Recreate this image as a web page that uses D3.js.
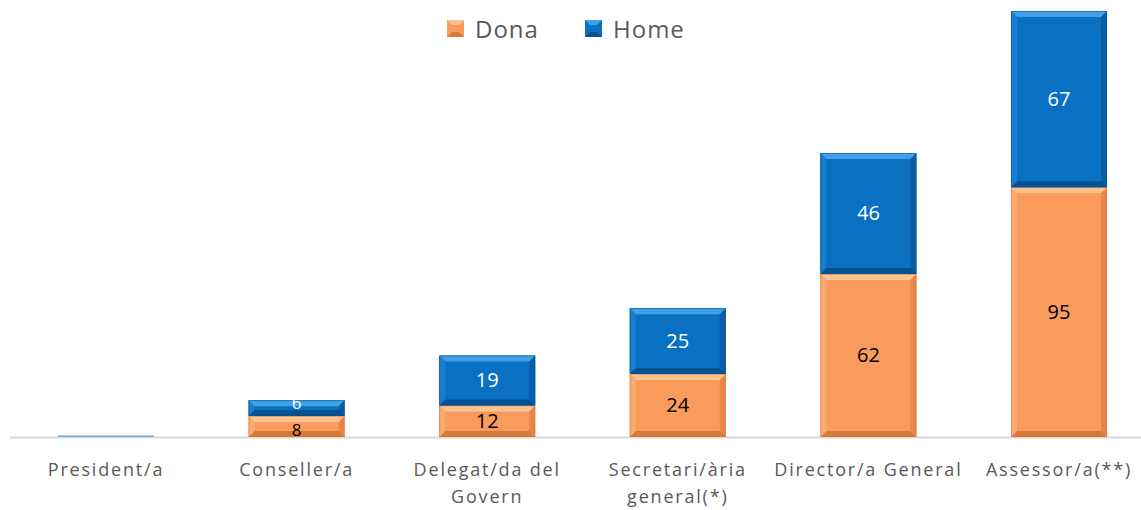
<!DOCTYPE html>
<html>
<head>
<meta charset="utf-8">
<script src="https://cdn.jsdelivr.net/npm/d3@7"></script>
<style>
	body { margin: 0; background: #fff; }
	svg { display: block; font-family: "Open Sans", "Noto Sans", sans-serif; }
</style>
</head>
<body>
<div id="chart"></div>
<script>
	//Data
	var categories = ["President/a", "Conseller/a", "Delegat/da del Govern", "Secretari/ària general(*)", "Director/a General", "Assessor/a(**)"];
	var tickLines = [["President/a"], ["Conseller/a"], ["Delegat/da del", "Govern"], ["Secretari/ària", "general(*)"], ["Director/a General"], ["Assessor/a(**)"]];
	var seriesNames = ["Dona", "Home"];
	var dona = [0, 8, 12, 24, 62, 95];
	var home = [0, 6, 19, 25, 46, 67];

	var w = 1141;
	var h = 510;
	var baseline = 437;
	var bevel = 6;

	var colors = {
		Dona: { main: "#F99B5C", top: "#FFC391", bottom: "#D8793A", side: "#FBAA72", text: "#000" },
		Home: { main: "#0A70C2", top: "#41A0EA", bottom: "#04528F", side: "#1A7ED0", text: "#fff" }
	};

	var rows = categories.map(function (c, i) {
		return { cat: c, Dona: dona[i], Home: home[i] };
	});
	var stacked = d3.stack().keys(seriesNames)(rows);

	var xScale = d3.scaleBand()
		.domain(categories)
		.range([10.7, 1154.3])
		.paddingInner(0.496)
		.paddingOuter(0.248);

	var yScale = d3.scaleLinear()
		.domain([0, 162])
		.range([baseline, 11]);

	var svg = d3.select("#chart")
		.append("svg")
		.attr("width", w)
		.attr("height", h);

	//Axis line
	svg.append("line")
		.attr("x1", 10).attr("x2", w)
		.attr("y1", baseline + 0.5).attr("y2", baseline + 0.5)
		.attr("stroke", "#d9d9d9")
		.attr("stroke-width", 2);

	//Bars with bevel
	stacked.forEach(function (layer) {
		var col = colors[layer.key];
		var g = svg.append("g");
		layer.forEach(function (d) {
			var x0 = xScale(d.data.cat);
			var x1 = x0 + xScale.bandwidth();
			var y0 = yScale(d[1]);
			var y1 = yScale(d[0]);
			if (y1 - y0 < 1.5) {
				if (layer.key == "Home" && d[1] == 0) {
					//empty bar still shows its edge
					g.append("rect")
						.attr("x", x0).attr("y", baseline - 1.5)
						.attr("width", x1 - x0).attr("height", 1.5)
						.attr("fill", "#6fa8dc");
				}
				return;
			}
			var b = Math.min(bevel, (y1 - y0) / 2);
			g.append("rect")
				.attr("x", x0).attr("y", y0)
				.attr("width", x1 - x0).attr("height", y1 - y0)
				.attr("fill", col.main);
			g.append("polygon")
				.attr("points", [[x0, y0], [x1, y0], [x1 - b, y0 + b], [x0 + b, y0 + b]].join(" "))
				.attr("fill", col.top);
			g.append("polygon")
				.attr("points", [[x0, y1], [x1, y1], [x1 - b, y1 - b], [x0 + b, y1 - b]].join(" "))
				.attr("fill", col.bottom);
			g.append("polygon")
				.attr("points", [[x0, y0], [x0 + b, y0 + b], [x0 + b, y1 - b], [x0, y1]].join(" "))
				.attr("fill", col.side);
			g.append("polygon")
				.attr("points", [[x1, y0], [x1 - b, y0 + b], [x1 - b, y1 - b], [x1, y1]].join(" "))
				.attr("fill", col.bottom)
				.attr("opacity", 0.6);
			g.append("rect")
				.attr("x", x0 + 0.5).attr("y", y0 + 0.5)
				.attr("width", x1 - x0 - 1).attr("height", y1 - y0 - 1)
				.attr("fill", "none")
				.attr("stroke", col.bottom)
				.attr("stroke-opacity", 0.5);
		});
	});

	//Value labels
	stacked.forEach(function (layer) {
		var col = colors[layer.key];
		svg.append("g").selectAll("text")
			.data(layer.filter(function (d) { return d[1] - d[0] > 0; }))
			.enter()
			.append("text")
			.attr("x", function (d) { return xScale(d.data.cat) + xScale.bandwidth() / 2; })
			.attr("y", function (d) {
				var mid = (yScale(d[0]) + yScale(d[1])) / 2 + 7;
				//small segments: push the two labels apart a little
				if (yScale(d[0]) - yScale(d[1]) < 25) {
					return layer.key == "Dona" ? mid + 3 : mid - 6;
				}
				return mid;
			})
			.attr("text-anchor", "middle")
			.attr("font-size", function (d) {
				return yScale(d[0]) - yScale(d[1]) < 25 ? "17px" : "20px";
			})
			.attr("fill", col.text)
			.text(function (d) { return d[1] - d[0]; });
	});

	//Category labels
	var ticks = svg.append("g");
	categories.forEach(function (c, i) {
		var cx = xScale(c) + xScale.bandwidth() / 2;
		var t = ticks.append("text")
			.attr("x", cx)
			.attr("y", 476)
			.attr("text-anchor", "middle")
			.attr("font-size", "18px")
			.attr("letter-spacing", "1.8px")
			.attr("fill", "#595959");
		tickLines[i].forEach(function (line, j) {
			t.append("tspan")
				.attr("x", cx)
				.attr("dy", j == 0 ? 0 : 27)
				.text(line);
		});
	});

	//Legend
	var legendX = [447, 585];
	seriesNames.forEach(function (s, i) {
		var col = colors[s];
		var lg = svg.append("g").attr("transform", "translate(" + legendX[i] + ",20)");
		var sz = 17, b = 5;
		lg.append("rect").attr("width", sz).attr("height", sz).attr("fill", col.main);
		lg.append("polygon").attr("points", [[0, 0], [sz, 0], [sz - b, b], [b, b]].join(" ")).attr("fill", col.top);
		lg.append("polygon").attr("points", [[0, sz], [sz, sz], [sz - b, sz - b], [b, sz - b]].join(" ")).attr("fill", col.bottom);
		lg.append("text")
			.attr("x", 28)
			.attr("y", 18)
			.attr("font-size", "24px")
			.attr("letter-spacing", "1px")
			.attr("fill", "#595959")
			.text(s);
	});
</script>
</body>
</html>
